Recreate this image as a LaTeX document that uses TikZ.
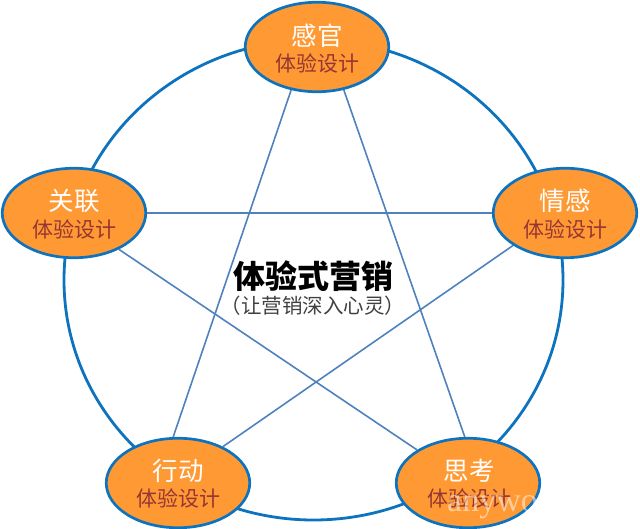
\documentclass[tikz,border=0pt]{standalone}
\usepackage{fontspec}
\usetikzlibrary{shapes.geometric}
\setmainfont{Noto Sans CJK SC}
\newfontfamily\markfont{Liberation Serif}
\definecolor{ringblue}{RGB}{14,115,190}
\definecolor{starblue}{RGB}{79,129,189}
\definecolor{petal}{RGB}{255,153,51}
\definecolor{subred}{RGB}{150,54,52}
\tikzset{
  petalnode/.style={ellipse, draw=ringblue, line width=2.7pt, fill=petal, minimum width=143.5pt, minimum height=89.5pt, inner sep=0pt},
  titletext/.style={white, font=\fontsize{25.5pt}{26pt}\selectfont},
  subtext/.style={subred, font=\fontsize{21pt}{22pt}\selectfont},
  starline/.style={starblue, line width=1.6pt}
}
\begin{document}
\begin{tikzpicture}[x=1pt, y=-1pt]
  \useasboundingbox (0, 0) rectangle (640, 529);

  % Outer ring
  \draw[ringblue, line width=2.8pt] (313.5, 280) ellipse (249.5 and 240);

  % Five petals
  \node[petalnode] (ganguan) at (317, 47) {};
  \node[petalnode] (qinggan) at (565, 213) {};
  \node[petalnode] (sikao) at (468, 483) {};
  \node[petalnode] (xingdong) at (178, 483) {};
  \node[petalnode] (guanlian) at (74, 213) {};

  % Star
  \draw[starline] (ganguan.239) -- (xingdong.96);
  \draw[starline] (ganguan.302) -- (sikao.94);
  \draw[starline] (guanlian.0) -- (qinggan.180);
  \draw[starline] (guanlian.321) -- (sikao.147);
  \draw[starline] (qinggan.212) -- (xingdong.39);

  \node[titletext] (t1) at (317, 36) {感官};
  \node[subtext] (s1) at (317, 63) {体验设计};
  \node[titletext] (t2) at (565, 201) {情感};
  \node[subtext] (s2) at (565, 229) {体验设计};
  \node[titletext] (t3) at (469, 471) {思考};
  \node[subtext] (s3) at (469, 498) {体验设计};
  \node[titletext] (t4) at (178, 471) {行动};
  \node[subtext] (s4) at (178, 498) {体验设计};
  \node[titletext] (t5) at (74, 201) {关联};
  \node[subtext] (s5) at (74, 229) {体验设计};

  % Centre
  \node[font=\fontsize{32pt}{33pt}\selectfont\bfseries] (main) at (313, 276) {体验式营销};
  \node[font=\fontsize{20.5pt}{21pt}\selectfont, black!75] (sub) at (313, 306) {（让营销深入心灵）};

  \node[white, opacity=0.5, anchor=west, inner sep=0pt, font=\fontsize{34pt}{34pt}\markfont] (mark) at (447, 507) {anywo};
\end{tikzpicture}
\end{document}
